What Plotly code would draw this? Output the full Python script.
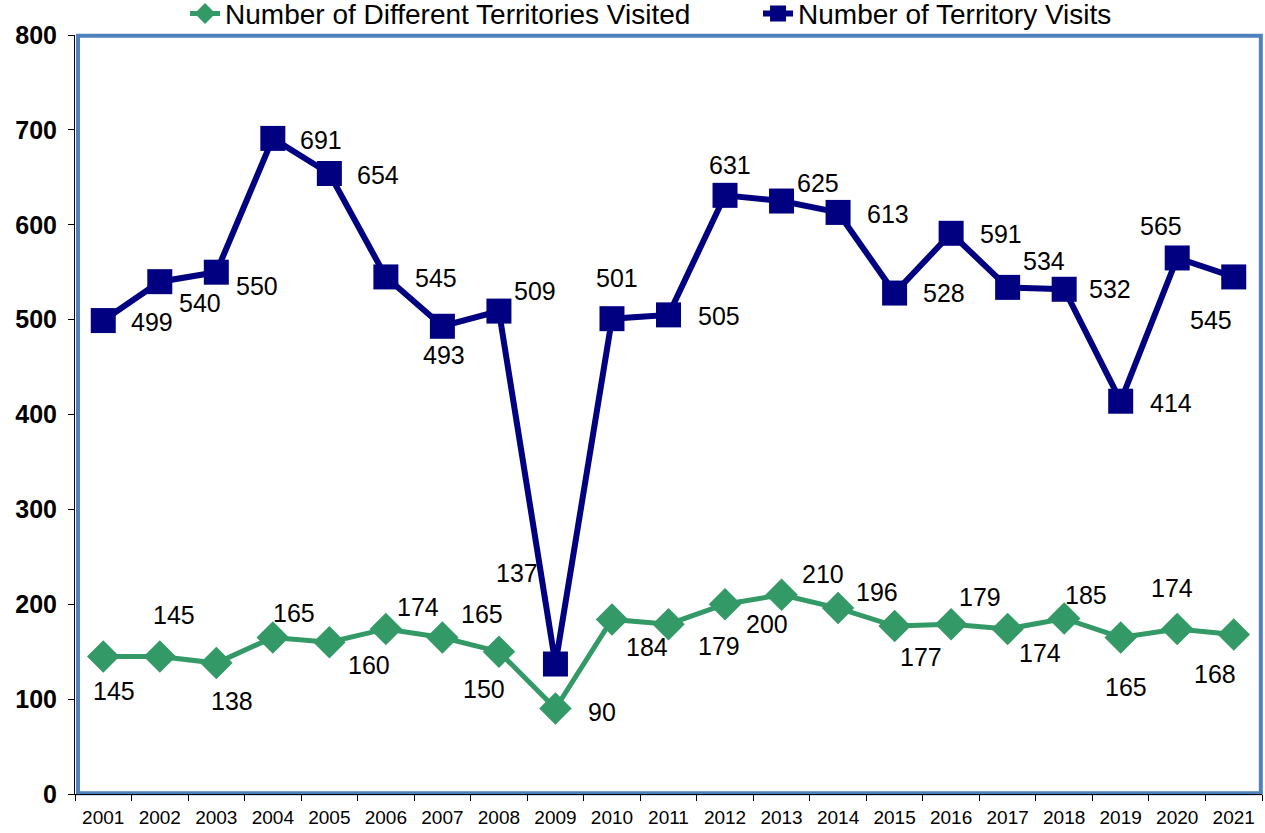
import plotly.graph_objects as go

years = [str(y) for y in range(2001, 2022)]
different_territories = [145, 145, 138, 165, 160, 174, 165, 150, 90, 184, 179, 200, 210, 196, 177, 179, 174, 185, 165, 174, 168]
territory_visits = [499, 540, 550, 691, 654, 545, 493, 509, 137, 501, 505, 631, 625, 613, 528, 591, 534, 532, 414, 565, 545]

# label offsets (pixels, x right / y up) to mimic the reference label placement
visits_offsets = [(49, -1), (40, -21), (41, -14), (48, -2), (49, -1), (50, -1), (2, -29), (36, 20),
                  (-38, 91), (5, 41), (50, -1), (5, 30), (36, 18), (50, -2), (49, 0), (50, -1),
                  (36, 26), (46, 0), (50, -2), (-16, 32), (-23, -43)]
diff_offsets = [(11, -35), (14, 41), (16, -38), (21, 24), (40, -23), (32, 22), (40, 23), (-15, -37),
                (47, -3), (35, -28), (50, -22), (42, -20), (41, 21), (39, 16), (26, -31), (29, 27),
                (32, -24), (22, 23), (5, -50), (-5, 41), (-19, -39)]

GREEN = "#339966"
NAVY = "#000080"
FONT = "Liberation Sans, Arial, sans-serif"

fig = go.Figure()
fig.add_trace(go.Scatter(
    x=years, y=different_territories, mode="lines+markers",
    name="Number of Different Territories Visited",
    line=dict(color=GREEN, width=5),
    marker=dict(symbol="diamond", size=25, color=GREEN),
))
fig.add_trace(go.Scatter(
    x=years, y=territory_visits, mode="lines+markers",
    name="Number of Territory Visits",
    line=dict(color=NAVY, width=6),
    marker=dict(symbol="square", size=25, color=NAVY),
))

annotations = []
for i, (v, (dx, dy)) in enumerate(zip(territory_visits, visits_offsets)):
    annotations.append(dict(xref="x", yref="y", x=i, y=v, text=str(v), showarrow=False,
                            xshift=dx, yshift=dy,
                            font=dict(size=25, color="black", family=FONT)))
for i, (v, (dx, dy)) in enumerate(zip(different_territories, diff_offsets)):
    annotations.append(dict(xref="x", yref="y", x=i, y=v, text=str(v), showarrow=False,
                            xshift=dx, yshift=dy,
                            font=dict(size=25, color="black", family=FONT)))

fig.update_layout(
    width=1265, height=833,
    margin=dict(l=75, r=3, t=35, b=39, autoexpand=False),
    paper_bgcolor="white", plot_bgcolor="white",
    font=dict(family=FONT, color="black"),
    showlegend=True,
    legend=dict(orientation="h", x=0.0927, xanchor="left", yref="paper", y=0.995, yanchor="bottom",
                font=dict(size=28, family=FONT), tracegroupgap=0, entrywidth=528,
                bgcolor="rgba(0,0,0,0)", borderwidth=0),
    annotations=annotations,
    shapes=[dict(type="rect", xref="paper", yref="paper", x0=0.0025, x1=0.999, y0=0.001, y1=0.999,
                 line=dict(color="#4F81BD", width=4), layer="below")],
)
fig.update_xaxes(
    type="category", showgrid=False, showline=True, linecolor="black", linewidth=1,
    ticks="outside", tickson="boundaries", ticklen=6, tickcolor="black",
    tickfont=dict(size=19, family=FONT), range=[-0.5, 20.5], ticklabelstandoff=6,
)
fig.update_yaxes(
    range=[0, 800], dtick=100, showgrid=False, showline=True, linecolor="black", linewidth=1,
    ticks="outside", ticklen=6, tickcolor="black", zeroline=False,
    tickfont=dict(size=25, family=FONT, weight="bold"), ticklabelstandoff=6,
)

fig.write_html("out.html", config={"displayModeBar": False},
               post_script="document.body.style.margin='0';")
